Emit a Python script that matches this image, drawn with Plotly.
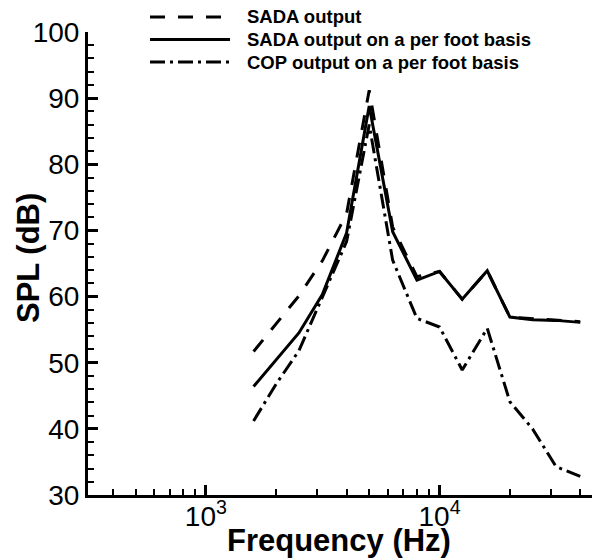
import numpy as np
import plotly.graph_objects as go

# 1/3 octave band centre frequencies (Hz)
freq = [1600, 2000, 2500, 3150, 4000, 5000, 6300, 8000, 10000,
        12500, 16000, 20000, 25000, 31500, 40000]

# SPL (dB)
sada = [51.7, 55.9, 60.1, 65.4, 72.5, 91.2, 70.5, 63.0, 63.8,
        59.6, 63.9, 56.9, 56.7, 56.4, 56.2]
sada_foot = [46.4, 50.4, 54.5, 60.3, 69.6, 88.8, 69.8, 62.5, 63.8,
             59.6, 63.9, 56.9, 56.5, 56.4, 56.1]
cop_foot = [41.2, 46.8, 51.8, 60.0, 68.3, 86.0, 65.5, 56.7, 55.4,
            48.9, 55.2, 44.1, 40.0, 34.3, 32.8]

legend_names = ["SADA output",
                "SADA output on a per foot basis",
                "COP output on a per foot basis"]
dashes = ["15px,13px", "solid", "15px,5px,3px,5px"]
series = [sada, sada_foot, cop_foot]

x_tickvals = [1000, 10000]
x_ticktext = ["10<sup>3</sup>", "10<sup>4</sup>"]

FONT = "Liberation Sans, Arial, sans-serif"

# the page body adds an 8px margin, so the figure is 8px smaller
OFF = 8
W, H = 600 - OFF, 559 - OFF
L, R, T, B = 88 - OFF, 0, 32 - OFF, 64
pw, ph = W - L - R, H - T - B


def px_to_paper(px, py):
    # px, py are window pixels
    return (px - OFF - L) / pw, 1 - (py - OFF - T) / ph


fig = go.Figure()

for name, vals, dash in zip(legend_names, series, dashes):
    fig.add_trace(go.Scatter(x=freq, y=vals, mode="lines", name=name,
                             line=dict(color="black", width=3, dash=dash)))

# legend drawn by hand so the sample lines are long like the original
shapes = []
annotations = []
for i, (name, dash) in enumerate(zip(legend_names, dashes)):
    ry = 17 + i * 22.5
    x0, y0 = px_to_paper(150, ry)
    x1, _ = px_to_paper(230, ry)
    shapes.append(dict(type="line", xref="paper", yref="paper",
                       x0=x0, x1=x1, y0=y0, y1=y0,
                       line=dict(color="black", width=3, dash=dash)))
    tx, _ = px_to_paper(245, ry)
    annotations.append(dict(x=tx, y=y0, xref="paper", yref="paper",
                            text="<b>" + name + "</b>", showarrow=False,
                            xanchor="left", yanchor="middle",
                            font=dict(family=FONT, size=18.5, color="black")))

# axis titles as annotations, placed like the original
tx, ty = px_to_paper(339, 540)
annotations.append(dict(x=tx, y=ty, xref="paper", yref="paper",
                        text="<b>Frequency (Hz)</b>", showarrow=False,
                        xanchor="center", yanchor="middle",
                        font=dict(family=FONT, size=31, color="black")))
tx, ty = px_to_paper(28, 258)
annotations.append(dict(x=tx, y=ty, xref="paper", yref="paper",
                        text="<b>SPL (dB)</b>", showarrow=False, textangle=-90,
                        xanchor="center", yanchor="middle",
                        font=dict(family=FONT, size=31, color="black")))

fig.update_layout(
    width=W, height=H,
    margin=dict(l=L, r=R, t=T, b=B, pad=0, autoexpand=False),
    paper_bgcolor="white",
    plot_bgcolor="white",
    showlegend=False,
    font=dict(family=FONT, color="black"),
    shapes=shapes,
    annotations=annotations,
)

fig.update_xaxes(
    type="log",
    range=[np.log10(313), np.log10(48600)],
    automargin=False,
    showgrid=False, zeroline=False,
    showline=True, linecolor="black", linewidth=3,
    ticks="inside", ticklen=10, tickwidth=3, tickcolor="black",
    tickvals=x_tickvals, ticktext=x_ticktext,
    tickfont=dict(size=28), ticklabelstandoff=-6,
    minor=dict(ticks="inside", ticklen=6, tickwidth=2, tickcolor="black",
               dtick="D1", showgrid=False),
)

fig.update_yaxes(
    range=[30, 100],
    automargin=False,
    showgrid=False, zeroline=False,
    showline=True, linecolor="black", linewidth=3,
    ticks="inside", ticklen=10, tickwidth=3, tickcolor="black",
    dtick=10, tickfont=dict(size=28),
    minor=dict(ticks="inside", ticklen=6, tickwidth=2, tickcolor="black",
               dtick=2, showgrid=False),
)

fig.write_html("out.html")
